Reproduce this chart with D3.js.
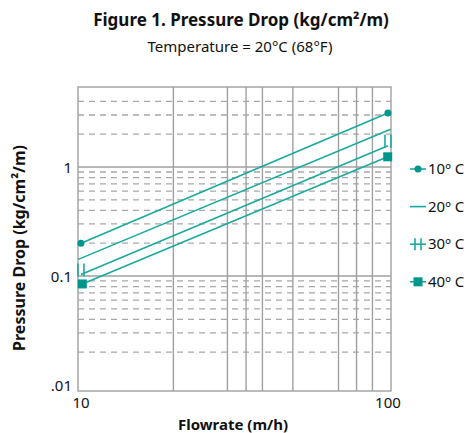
<!DOCTYPE html>
<html lang="en">
  <head>
    <meta charset="UTF-8" />
    <title>Pressure Drop</title>
    <script src="https://d3js.org/d3.v7.min.js"></script>
    <style>
      body { margin: 0; background: #fff; }
      svg text { font-family: "Noto Sans", "Open Sans", sans-serif; fill: #111; }
      .grid { stroke: #a0a0a0; stroke-width: 1.4; fill: none; }
      .dash { stroke: #a8a8a8; stroke-width: 1.3; stroke-dasharray: 6 5; }
      .series { stroke: #1aa99e; stroke-width: 1.6; fill: none; }
    </style>
  </head>
  <body></body>
  <script type="text/javascript">
    var width = 470,
      height = 433;

    // data
    var seriesNames = ['10º C', '20º C', '30º C', '40º C'];
    var flow10 = [10, 100];
    var drop10 = [0.2, 3.13];
    var flow20 = [9.8, 102];
    var drop20 = [0.142, 2.22];
    var flow30 = [10, 100];
    var drop30 = [0.103, 1.57];
    var flow40 = [10.1, 99.8];
    var drop40 = [0.0845, 1.24];

    var yTickValues = [1, 0.1, 0.01];
    var yTickLabels = ['1', '0.1', '.01'];
    var xTickValues = [10, 100];
    var xTickLabels = ['10', '100'];
    var xGridValues = [20, 30, 34.5, 39, 49, 69, 79, 89];
    var yDashValues = [4, 3, 2, 0.9, 0.8, 0.7, 0.6, 0.5, 0.4, 0.3, 0.2,
      0.09, 0.08, 0.07, 0.06, 0.05, 0.04, 0.03, 0.02];
    var ySolidValues = [1, 0.1];

    // plot box
    var pLeft = 78, pRight = 391, pTop = 87, pBottom = 391;

    var x = d3.scaleLog().domain([9.78, 102.3]).range([pLeft, pRight]);
    var y = d3.scaleLog().domain([0.0088, 5.42]).range([pBottom, pTop]);

    var svg = d3.select('body').append('svg')
      .attr('width', width)
      .attr('height', height);

    // titles
    svg.append('text')
      .attr('x', 241).attr('y', 26)
      .attr('text-anchor', 'middle')
      .style('font-size', '17px').style('font-weight', 'bold')
      .text('Figure 1. Pressure Drop (kg/cm²/m)');
    svg.append('text')
      .attr('x', 240).attr('y', 52)
      .attr('text-anchor', 'middle')
      .style('font-size', '15px')
      .text('Temperature = 20°C (68°F)');

    // dashed minor grid
    svg.selectAll('.dash').data(yDashValues).enter().append('line')
      .attr('class', 'dash')
      .attr('x1', pLeft).attr('x2', pRight)
      .attr('y1', d => y(d)).attr('y2', d => y(d));

    // vertical grid
    svg.selectAll('.vgrid').data(xGridValues).enter().append('line')
      .attr('class', 'grid')
      .attr('x1', d => x(d)).attr('x2', d => x(d))
      .attr('y1', pTop).attr('y2', pBottom);

    svg.selectAll('.hgrid').data(ySolidValues).enter().append('line')
      .attr('class', 'grid')
      .attr('x1', pLeft).attr('x2', pRight)
      .attr('y1', d => y(d)).attr('y2', d => y(d));

    svg.append('rect')
      .attr('class', 'grid')
      .attr('x', pLeft).attr('y', pTop)
      .attr('width', pRight - pLeft).attr('height', pBottom - pTop);

    // tick labels
    svg.selectAll('.ylab').data(yTickValues).enter().append('text')
      .attr('x', pLeft - 6)
      .attr('y', d => Math.min(y(d) + 1, pBottom - 2))
      .attr('dy', '0.35em')
      .attr('text-anchor', 'end')
      .style('font-size', '15px')
      .text((d, i) => yTickLabels[i]);
    svg.selectAll('.xlab').data(xTickValues).enter().append('text')
      .attr('x', d => x(d))
      .attr('y', 408)
      .attr('text-anchor', 'middle')
      .style('font-size', '15px')
      .text((d, i) => xTickLabels[i]);

    // axis titles
    svg.append('text')
      .attr('x', 233).attr('y', 430)
      .attr('text-anchor', 'middle')
      .style('font-size', '15px').style('font-weight', 'bold')
      .text('Flowrate (m/h)');
    svg.append('text')
      .attr('transform', 'translate(25,248) rotate(-90)')
      .attr('text-anchor', 'middle')
      .style('font-size', '16px').style('font-weight', 'bold')
      .text('Pressure Drop (kg/cm²/m)');

    // series
    var series = [
      { name: seriesNames[0], pts: flow10.map((f, i) => [f, drop10[i]]), marker: 'dot' },
      { name: seriesNames[1], pts: flow20.map((f, i) => [f, drop20[i]]), marker: 'none' },
      { name: seriesNames[2], pts: flow30.map((f, i) => [f, drop30[i]]), marker: 'ticks' },
      { name: seriesNames[3], pts: flow40.map((f, i) => [f, drop40[i]]), marker: 'square' }
    ];

    var line = d3.line().x(d => x(d[0])).y(d => y(d[1]));
    var markColor = '#00968b';

    function drawMarker(g, type, legend) {
      if (type === 'dot') {
        g.append('circle').attr('r', 3.5).attr('fill', markColor);
      } else if (type === 'square') {
        g.append('rect').attr('x', -4.5).attr('y', -4.5)
          .attr('width', 9).attr('height', 9).attr('fill', markColor);
      } else if (type === 'ticks') {
        g.append('path')
          .attr('d', legend ? 'M-3,-6V6M3,-6V6' : 'M-3,-11V2M3,-11V2')
          .attr('stroke', '#1aa99e').attr('stroke-width', 1.6);
      }
    }

    series.forEach(s => {
      svg.append('path').attr('class', 'series').attr('d', line(s.pts));
      s.pts.forEach(p => {
        var g = svg.append('g')
          .attr('transform', `translate(${x(p[0])},${y(p[1])})`);
        drawMarker(g, s.marker, false);
      });
    });

    // legend
    var legend = svg.selectAll('.legend').data(series).enter().append('g')
      .attr('transform', (d, i) => `translate(418,${169 + i * 37.6})`);
    legend.append('line')
      .attr('class', 'series')
      .attr('x1', -8).attr('x2', 8);
    legend.each(function (d) {
      drawMarker(d3.select(this), d.marker, true);
    });
    legend.append('text')
      .attr('x', 10).attr('dy', '0.35em')
      .style('font-size', '15px')
      .text(d => d.name);
  </script>
</html>
